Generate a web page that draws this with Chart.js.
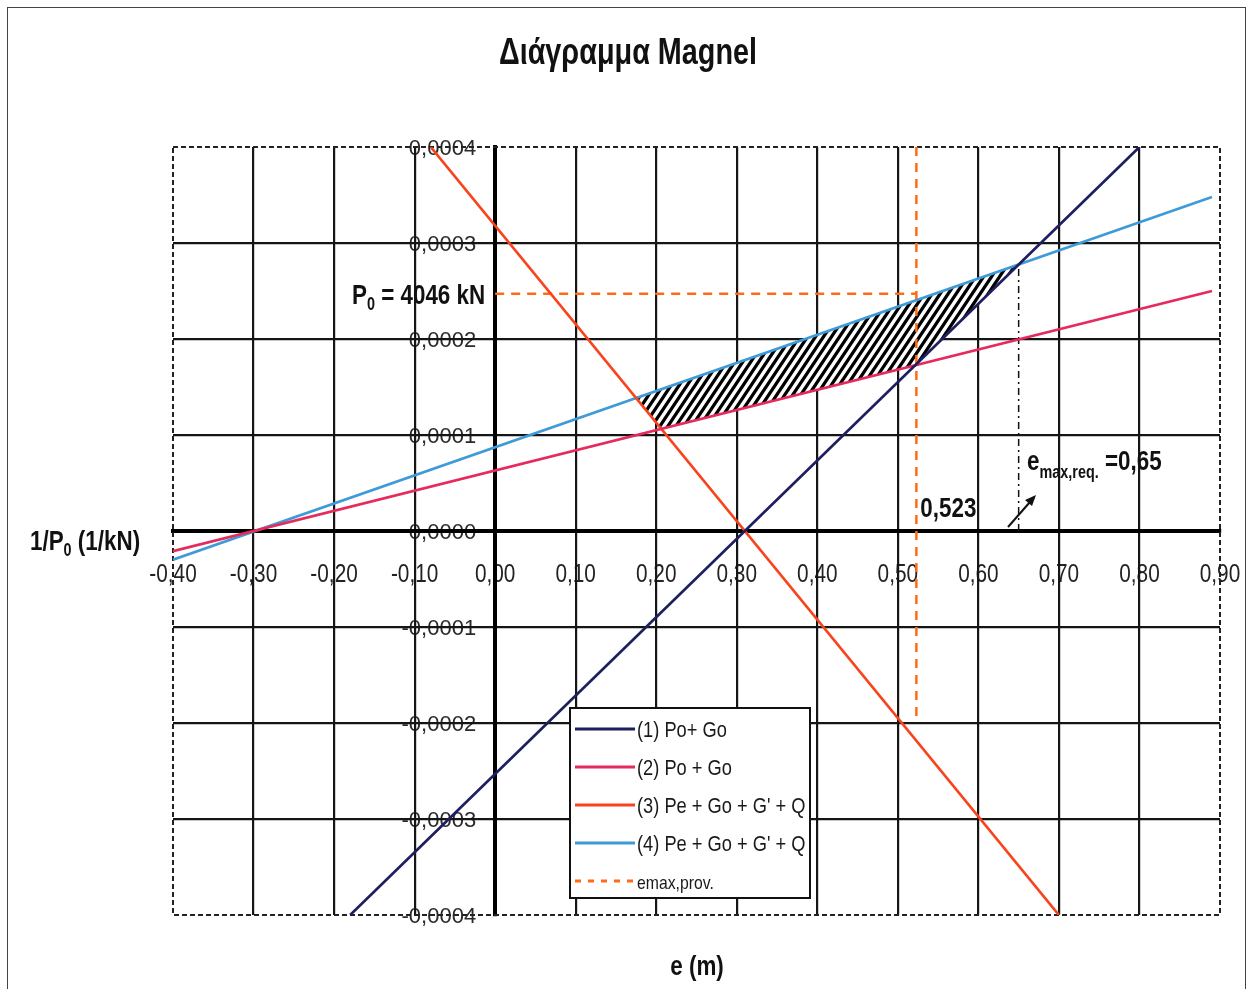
<!DOCTYPE html>
<html lang="el">
<head>
<meta charset="utf-8">
<title>Διάγραμμα Magnel</title>
<script src="https://cdn.jsdelivr.net/npm/chart.js@4.4.1/dist/chart.umd.min.js"></script>
<style>
    body { margin: 0; background: #fff; }
    canvas { display: block; }
</style>
</head>
<body>
<canvas id="MagnelGraph" width="1252" height="989"></canvas>
<script>
// 1/P0 (1/kN) against e (m): end points of the four Magnel inequalities
let line1E = [-0.18, 0.80];
let line1V = [-0.0004, 0.0004];
let line2E = [-0.40, 0.89];
let line2V = [-0.000021, 0.00025];
let line3E = [-0.08, 0.70];
let line3V = [0.0004, -0.0004];
let line4E = [-0.40, 0.89];
let line4V = [-0.00003, 0.000348];

// corners of the admissible (hatched) zone
let zoneE = [0.175, 0.206, 0.521, 0.650];
let zoneV = [0.000139, 0.000106, 0.000173, 0.000278];

// chosen prestress force and eccentricities
let p0 = 4046;
let eProv = 0.523;
let eProvLow = -0.0002;
let eReq = 0.65;

let seriesNames = ["(1) Po+ Go", "(2) Po + Go", "(3) Pe + Go + G' + Q", "(4) Pe + Go + G' + Q", "emax,prov."];
let seriesColors = ["#1d1f5e", "#e52a5c", "#f8431c", "#3f9ad8", "#ff6b14"];

let eMin = -0.40, eMax = 0.90, eStep = 0.10;
let vMin = -0.0004, vMax = 0.0004, vStep = 0.0001;

const FONT = "'Liberation Sans', Arial, sans-serif";

function points(es, vs) {
    return es.map(function (e, i) { return { x: e, y: vs[i] }; });
}

function decimalComma(v, digits) {
    if (Math.abs(v) < 1e-12) v = 0;
    return v.toFixed(digits).replace(".", ",");
}

// steep black/white stripes for the admissible zone
function hatchPattern() {
    let w = 8, h = 12;
    let tile = document.createElement("canvas");
    tile.width = w;
    tile.height = h;
    let g = tile.getContext("2d");
    g.fillStyle = "#fff";
    g.fillRect(0, 0, w, h);
    g.strokeStyle = "#000";
    g.lineWidth = 3.2;
    g.beginPath();
    for (let k = -1; k <= 1; k++) {
        g.moveTo(k * w - w * 0.25, h * 1.25);
        g.lineTo(k * w + w * 1.25, -h * 0.25);
    }
    g.stroke();
    return g.createPattern(tile, "repeat");
}

// text runs drawn narrowed: [text, size, weight, dy]
function drawRuns(ctx, runs, x, y, align, squeeze, color) {
    ctx.save();
    ctx.fillStyle = color || "#111";
    ctx.textBaseline = "alphabetic";
    ctx.textAlign = "left";
    let total = 0;
    runs.forEach(function (r) {
        ctx.font = r[2] + " " + r[1] + "px " + FONT;
        total += ctx.measureText(r[0]).width;
    });
    let cx = align === "center" ? -total / 2 : (align === "right" ? -total : 0);
    ctx.translate(x, y);
    ctx.scale(squeeze, 1);
    runs.forEach(function (r) {
        ctx.font = r[2] + " " + r[1] + "px " + FONT;
        ctx.fillText(r[0], cx, r[3] || 0);
        cx += ctx.measureText(r[0]).width;
    });
    ctx.restore();
}

function lineSet(i, es, vs) {
    return {
        label: seriesNames[i],
        data: points(es, vs),
        borderColor: seriesColors[i],
        borderWidth: 2.7,
        showLine: true,
        pointRadius: 0,
        inLegend: true
    };
}

function isEdge(v, lo, hi) {
    return Math.abs(v - lo) < 1e-9 || Math.abs(v - hi) < 1e-9;
}

let magnelDecor = {
    id: "magnelDecor",
    beforeDraw: function (chart) {
        // tick labels sit under the grid, like the spreadsheet original
        let ctx = chart.ctx;
        let xs = chart.scales.x, ys = chart.scales.y;
        let axisY = ys.getPixelForValue(0);
        let axisX = xs.getPixelForValue(0);
        xs.ticks.forEach(function (t) {
            drawRuns(ctx, [[decimalComma(t.value, 2), 26, "normal"]], xs.getPixelForValue(t.value), axisY + 51, "center", 0.8, "#222");
        });
        ys.ticks.forEach(function (t) {
            drawRuns(ctx, [[decimalComma(t.value, 4), 22, "normal"]], axisX - 19, ys.getPixelForValue(t.value) + 8, "right", 1, "#2a2a2a");
        });
    },
    beforeDatasetsDraw: function (chart) {
        let ctx = chart.ctx, a = chart.chartArea;
        ctx.save();
        ctx.strokeStyle = "#222";
        ctx.lineWidth = 2;
        ctx.setLineDash([5, 3]);
        ctx.strokeRect(a.left, a.top, a.right - a.left, a.bottom - a.top);
        ctx.restore();
    },
    afterDraw: function (chart) {
        let ctx = chart.ctx;
        let xs = chart.scales.x, ys = chart.scales.y;

        // outer frame
        ctx.save();
        ctx.strokeStyle = "#444";
        ctx.lineWidth = 1;
        ctx.strokeRect(7.5, 7.5, 1238, 1000);
        ctx.restore();

        drawRuns(ctx, [["Διάγραμμα Magnel", 36, "bold"]], 628, 64, "center", 0.8);
        drawRuns(ctx, [["1/P", 28, "bold"], ["0", 18, "bold", 6], [" (1/kN)", 28, "bold"]], 30, 550, "left", 0.8);
        drawRuns(ctx, [["e (m)", 28, "bold"]], 697, 975, "center", 0.8);

        let yP = ys.getPixelForValue(1 / p0);
        drawRuns(ctx, [["P", 28, "bold"], ["0", 18, "bold", 6], [" = " + p0 + " kN", 28, "bold"]], 352, yP + 10, "left", 0.8);
        drawRuns(ctx, [[decimalComma(eProv, 3), 28, "bold"]], xs.getPixelForValue(eProv) + 4, 517, "left", 0.8);
        drawRuns(ctx, [["e", 28, "bold"], ["max,req.", 18, "bold", 8], [" =" + decimalComma(eReq, 2), 28, "bold"]], 1027, 470, "left", 0.8);

        // arrow towards the required eccentricity
        ctx.save();
        ctx.strokeStyle = "#111";
        ctx.fillStyle = "#111";
        ctx.lineWidth = 2;
        ctx.beginPath();
        ctx.moveTo(1008, 527);
        ctx.lineTo(1030, 502);
        ctx.stroke();
        ctx.beginPath();
        ctx.moveTo(1036, 495);
        ctx.lineTo(1025, 500);
        ctx.lineTo(1032, 506);
        ctx.closePath();
        ctx.fill();
        ctx.restore();

        // legend box
        let bx = 570, by = 708, bw = 240, bh = 190;
        ctx.save();
        ctx.fillStyle = "#fff";
        ctx.fillRect(bx, by, bw, bh);
        ctx.strokeStyle = "#111";
        ctx.lineWidth = 2;
        ctx.strokeRect(bx, by, bw, bh);
        let row = 0;
        chart.data.datasets.forEach(function (ds) {
            if (!ds.inLegend) return;
            let ry = by + 21 + row * 38;
            ctx.beginPath();
            ctx.strokeStyle = ds.borderColor;
            ctx.lineWidth = 3;
            ctx.setLineDash(ds.borderDash ? [6, 7] : []);
            ctx.moveTo(bx + 5, ry);
            ctx.lineTo(bx + 65, ry);
            ctx.stroke();
            let size = ds.borderDash ? 19 : 22;
            drawRuns(ctx, [[ds.label, size, "normal"]], bx + 67, ry + 8, "left", 0.83, "#1a1a1a");
            row++;
        });
        ctx.restore();
    }
};

let provData = [
    { x: 0, y: 1 / p0 },
    { x: eProv, y: 1 / p0 },
    { x: eProv, y: null },
    { x: eProv, y: vMax },
    { x: eProv, y: eProvLow }
];

let zoneData = points(zoneE.concat([zoneE[0]]), zoneV.concat([zoneV[0]]));

let magnelContext = document.getElementById("MagnelGraph").getContext("2d");
let magnelChart = new Chart(magnelContext, {
    type: "scatter",
    data: {
        datasets: [
            lineSet(0, line1E, line1V),
            lineSet(1, line2E, line2V),
            lineSet(2, line3E, line3V),
            lineSet(3, line4E, line4V),
            {
                label: seriesNames[4],
                data: provData,
                borderColor: seriesColors[4],
                borderWidth: 2.5,
                borderDash: [9, 7],
                showLine: true,
                pointRadius: 0,
                inLegend: true
            },
            {
                label: "",
                data: points([eReq, eReq], [0, zoneV[3]]),
                borderColor: "#111",
                borderWidth: 1.5,
                borderDash: [7, 4, 2, 4],
                showLine: true,
                pointRadius: 0
            },
            {
                label: "",
                data: zoneData,
                showLine: true,
                pointRadius: 0,
                borderWidth: 0,
                borderColor: "rgba(0,0,0,0)",
                backgroundColor: hatchPattern(),
                fill: "shape",
                order: 10
            }
        ]
    },
    options: {
        responsive: false,
        animation: false,
        events: [],
        layout: { padding: { left: 173, right: 32, top: 147, bottom: 74 } },
        plugins: {
            legend: { display: false },
            tooltip: { enabled: false }
        },
        scales: {
            x: {
                type: "linear",
                min: eMin,
                max: eMax,
                position: { y: 0 },
                border: { display: true, color: "#000", width: 4 },
                grid: {
                    drawTicks: false,
                    lineWidth: 2.2,
                    color: function (c) { return isEdge(c.tick.value, eMin, eMax) ? "rgba(0,0,0,0)" : "#151515"; }
                },
                ticks: { display: false, stepSize: eStep }
            },
            y: {
                type: "linear",
                min: vMin,
                max: vMax,
                position: { x: 0 },
                border: { display: true, color: "#000", width: 4 },
                grid: {
                    drawTicks: false,
                    lineWidth: 2.2,
                    color: function (c) { return isEdge(c.tick.value, vMin, vMax) ? "rgba(0,0,0,0)" : "#151515"; }
                },
                ticks: { display: false, stepSize: vStep }
            }
        }
    },
    plugins: [magnelDecor]
});
</script>
</body>
</html>
